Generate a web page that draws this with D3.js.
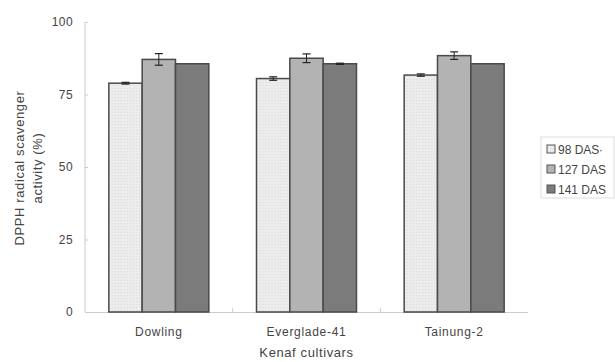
<!DOCTYPE html>
<html>
<head>
<meta charset="utf-8">
<title>DPPH radical scavenger activity</title>
<style>
  body { margin: 0; background: #fff; }
  svg text { font-family: "Liberation Sans", "DejaVu Sans", sans-serif; fill: #444; letter-spacing: 0.4px; }
  .axis path, .axis line { stroke: #ccc; }
</style>
</head>
<body>
<svg id="chart" width="615" height="362"></svg>
<script src="https://d3js.org/d3.v7.min.js"></script>
<script>
var cultivars = ["Dowling", "Everglade-41", "Tainung-2"];
var seriesNames = ["98 DAS", "127 DAS", "141 DAS"];
var seriesLegend = ["98 DAS\u2219", "127 DAS", "141 DAS"];
var das98 = [78.9, 80.5, 81.7];
var das127 = [87.1, 87.5, 88.4];
var das141 = [85.6, 85.6, 85.6];
var err98 = [0.3, 0.6, 0.4];
var err127 = [2.0, 1.5, 1.3];
var err141 = [0, 0.2, 0];
var yTicks = [0, 25, 50, 75, 100];

var values = [das98, das127, das141];
var errors = [err98, err127, err141];
var fills = ["url(#dots)", "#b3b3b3", "#7b7b7b"];

var svg = d3.select("#chart"),
    margin = {top: 22, right: 87, bottom: 50, left: 85},
    width = 615 - margin.left - margin.right,
    height = 362 - margin.top - margin.bottom;

// light grid texture for the first series
var pat = svg.append("defs").append("pattern")
    .attr("id", "dots")
    .attr("width", 3).attr("height", 3)
    .attr("patternUnits", "userSpaceOnUse");
pat.append("rect").attr("width", 3).attr("height", 3).attr("fill", "#ececec");
pat.append("rect").attr("width", 1).attr("height", 1).attr("fill", "#d9d9d9");

var x0 = d3.scaleBand().domain(cultivars).range([0, width]),
    x1 = d3.scaleBand().domain(seriesNames).range([0, 100]),
    y = d3.scaleLinear().domain([0, 100]).range([height, 0]);

var g = svg.append("g")
    .attr("transform", "translate(" + margin.left + "," + margin.top + ")");

var yAxis = g.append("g")
    .attr("class", "axis")
    .call(d3.axisLeft(y).tickValues(yTicks).tickSize(-3).tickPadding(12));
yAxis.select(".domain").remove();
yAxis.append("line").attr("x1", 0).attr("x2", 0).attr("y1", 0).attr("y2", height).attr("stroke", "#ccc");
yAxis.selectAll("text").style("font-size", "12px");

var xAxis = g.append("g")
    .attr("class", "axis")
    .attr("transform", "translate(0," + height + ")")
    .call(d3.axisBottom(x0).tickSize(0).tickPadding(15));
xAxis.select(".domain").attr("d", "M0,0.5H" + width);
xAxis.selectAll("text").style("font-size", "12px").style("letter-spacing", "0.7px");
// small separators between categories
xAxis.selectAll(".sep")
  .data(cultivars.slice(1))
  .enter().append("line")
    .attr("x1", function(d) { return x0(d); })
    .attr("x2", function(d) { return x0(d); })
    .attr("y1", -4).attr("y2", 0)
    .attr("stroke", "#ddd");

var groups = g.selectAll(".grp")
  .data(cultivars)
  .enter().append("g")
    .attr("class", "grp")
    .attr("transform", function(d) { return "translate(" + (x0(d) + x0.bandwidth() / 2 - 50) + ",0)"; });

groups.each(function(c, ci) {
  var gg = d3.select(this);
  seriesNames.forEach(function(s, si) {
    var v = values[si][ci], e = errors[si][ci];
    gg.append("rect")
      .attr("x", x1(s))
      .attr("y", y(v))
      .attr("width", x1.bandwidth())
      .attr("height", height - y(v))
      .attr("fill", fills[si])
      .attr("stroke", "#4a4a4a")
      .attr("stroke-width", 1.5);
    if (e > 0) {
      var cx = x1(s) + x1.bandwidth() / 2;
      gg.append("line")
        .attr("x1", cx).attr("x2", cx)
        .attr("y1", y(v + e)).attr("y2", y(v - e))
        .attr("stroke", "#222").attr("stroke-width", 1);
      [v + e, v - e].forEach(function(t) {
        gg.append("line")
          .attr("x1", cx - 4).attr("x2", cx + 4)
          .attr("y1", y(t)).attr("y2", y(t))
          .attr("stroke", "#222").attr("stroke-width", 1.2);
      });
    }
  });
});

// axis titles
svg.append("text")
    .attr("transform", "translate(24,168) rotate(-90)")
    .attr("text-anchor", "middle")
    .style("font-size", "13px")
    .style("letter-spacing", "0.6px")
    .text("DPPH radical scavenger");
svg.append("text")
    .attr("transform", "translate(42,168) rotate(-90)")
    .attr("text-anchor", "middle")
    .style("font-size", "13px")
    .style("letter-spacing", "0.6px")
    .text("activity (%)");
svg.append("text")
    .attr("x", margin.left + width / 2)
    .attr("y", 357)
    .attr("text-anchor", "middle")
    .style("font-size", "13px")
    .style("letter-spacing", "0.6px")
    .text("Kenaf cultivars");

// legend
var leg = svg.append("g").attr("transform", "translate(541,137)");
leg.append("rect")
    .attr("width", 73).attr("height", 61)
    .attr("fill", "#fff").attr("stroke", "#ddd");
var items = leg.selectAll(".item")
  .data(seriesLegend)
  .enter().append("g")
    .attr("transform", function(d, i) { return "translate(6," + (8 + i * 20) + ")"; });
items.append("rect")
    .attr("width", 8).attr("height", 8)
    .attr("fill", function(d, i) { return fills[i]; })
    .attr("stroke", "#555");
items.append("text")
    .attr("x", 11).attr("y", 8.5)
    .style("font-size", "12px")
    .style("letter-spacing", "0px")
    .text(function(d) { return d; });
</script>
</body>
</html>
